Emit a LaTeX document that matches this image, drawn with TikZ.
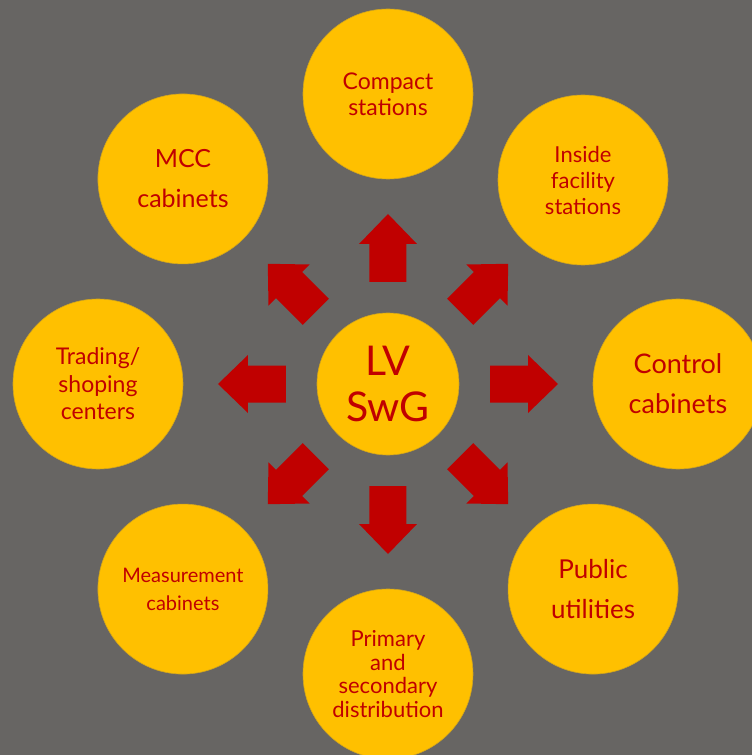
\documentclass[tikz,border=0pt]{standalone}
\usepackage{fontspec}
\setmainfont{Lato}
\definecolor{bggray}{HTML}{676563}
\definecolor{discyellow}{HTML}{FFC000}
\definecolor{swgred}{HTML}{C00000}

\begin{document}
\begin{tikzpicture}[x=1pt,y=1pt,
    disc/.style={circle,fill=discyellow,draw=discyellow!70!bggray,line width=0.6pt,
        text=swgred,minimum size=170pt,inner sep=0pt,align=center},
    blockarrow/.style={fill=swgred}]
    % Background
    \fill[bggray] (-388,-371) rectangle (364,384);
    \useasboundingbox (-388,-371) rectangle (364,384);

    % Centre
    \node[disc,minimum size=142pt,font=\fontsize{41}{46}\selectfont] (swg) at (0,0) {LV\\SwG};

    % Outer discs
    \node[disc,font=\fontsize{23}{26}\selectfont] (compact) at (90:290) {Compact\\stations};
    \node[disc,font=\fontsize{22}{26}\selectfont] (inside) at (195,204) {Inside\\facility\\stations};
    \node[disc,font=\fontsize{27}{40}\selectfont] (control) at (0:290) {Control\\cabinets};
    \node[disc,font=\fontsize{26}{40}\selectfont] (public) at (-45:290) {Public\\utilities};
    \node[disc,font=\fontsize{22}{23.5}\selectfont] (primary) at (-90:290) {Primary\\and\\secondary\\distribution};
    \node[disc,font=\fontsize{20}{28}\selectfont] (measure) at (-135:290) {Measurement\\cabinets};
    \node[disc,font=\fontsize{23}{27.5}\selectfont] (trading) at (180:290) {Trading/\\shoping\\centers};
    \node[disc,font=\fontsize{25}{40}\selectfont] (mcc) at (135:290) {MCC\\cabinets};

    % Block arrows
    \foreach \a in {0,45,...,315}
        \fill[blockarrow,rotate=\a] (102,-18.5) -- (140,-18.5) -- (140,-29) -- (170,0)
            -- (140,29) -- (140,18.5) -- (102,18.5) -- cycle;
\end{tikzpicture}
\end{document}
